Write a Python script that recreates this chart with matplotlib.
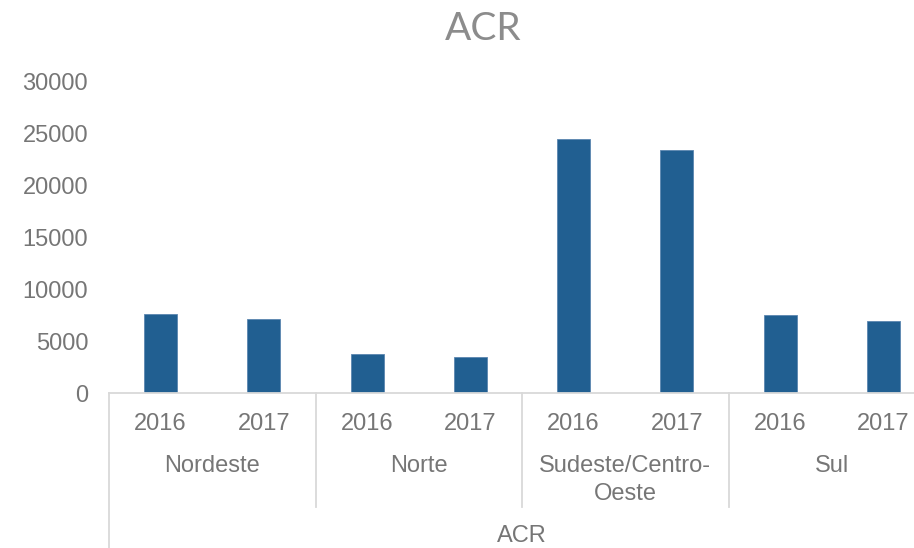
import matplotlib.pyplot as plt
from matplotlib.transforms import blended_transform_factory

regions = ["Nordeste", "Norte", "Sudeste/Centro-\nOeste", "Sul"]
years = ["2016", "2017"]
values = [7600, 7100, 3750, 3500, 24450, 23400, 7500, 6950]
group_label = "ACR"

bar_color = "#215F91"
text_color = "#767676"
line_color = "#D9D9D9"


def main():
    plt.rcParams["font.family"] = ["Liberation Sans", "DejaVu Sans"]
    fig = plt.figure(figsize=(9.14, 5.48), dpi=100)
    ax = fig.add_axes([109 / 914, 155 / 548, 826 / 914, 311.3 / 548])

    xs = list(range(len(values)))
    ax.bar(xs, values, width=0.32, color=bar_color, edgecolor="#5B86B0", linewidth=0.6)

    ax.set_xlim(-0.5, len(values) - 0.5)
    ax.set_ylim(0, 30000)
    ax.set_yticks(range(0, 30001, 5000))
    ax.tick_params(axis="y", length=0, pad=15, labelsize=17, labelcolor=text_color)
    ax.set_xticks([])
    for s in ["top", "right", "left"]:
        ax.spines[s].set_visible(False)
    ax.spines["bottom"].set_color(line_color)
    ax.spines["bottom"].set_linewidth(1.3)

    tr = blended_transform_factory(ax.transData, ax.transAxes)
    kw = dict(transform=tr, clip_on=False, color=line_color, linewidth=1.3)

    # year labels
    for i in xs:
        ax.text(i, -0.098, years[i % 2], transform=tr, ha="center", va="center",
                fontsize=17, color=text_color)

    # region labels and separators
    for g, name in enumerate(regions):
        center = 2 * g + 0.5
        lines = name.split("\n")
        for k, ln in enumerate(lines):
            ax.text(center, -0.236 - k * 0.09, ln, transform=tr, ha="center",
                    va="center", fontsize=17, color=text_color)
        if g > 0:
            ax.plot([2 * g - 0.5, 2 * g - 0.5], [0, -0.366], **kw)
    ax.plot([-0.5, -0.5], [0, -0.5], **kw)

    ax.text(0.5, -0.458, group_label, transform=ax.transAxes, ha="center",
            va="center", fontsize=17, color=text_color)

    fig.text(483 / 914, 1 - 29 / 548, "ACR", ha="center", va="center",
             fontsize=28, color="#8C8C8C", family=["Lato", "DejaVu Sans"])

    fig.savefig("out.png", dpi=100)


if __name__ == "__main__":
    main()
